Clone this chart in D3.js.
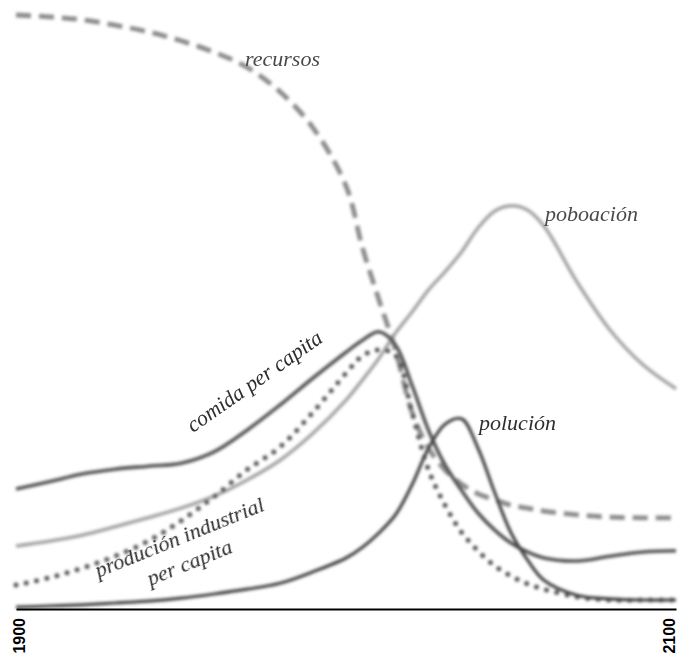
<!DOCTYPE html>
<html>
<head>
<meta charset="utf-8">
<script src="https://cdn.jsdelivr.net/npm/d3@7"></script>
<style>
    html, body { margin: 0; padding: 0; background: #fff; }
    svg { display: block; }
    .label { font-family: "Liberation Serif", "DejaVu Serif", serif; font-style: italic; font-size: 22px; }
    .year-axis text { font-family: "Liberation Sans", Arial, sans-serif; font-weight: bold; font-size: 16px; fill: #000; }
</style>
</head>
<body>
<div id="chart"></div>
<script>
/* ============================================================
   DATA — index values (0–100)
============================================================ */

const years = [
    1900, 1910, 1920, 1930, 1940, 1950, 1960, 1970, 1980, 1990,
    2000, 2005, 2010, 2015, 2020, 2025, 2030, 2035, 2040, 2045,
    2050, 2055, 2060, 2070, 2080, 2090, 2100
];

const recursos = [
    99.0, 98.7, 98.2, 97.3, 96.2, 94.7, 92.8, 90.3, 86.2, 80.2,
    70.5, 60.2, 51.5, 43.2, 32.8, 26.8, 23.2, 20.8, 19.2, 18.2,
    17.3, 16.8, 16.3, 15.7, 15.3, 15.2, 15.2
];

const poboacion = [
    10.5, 11.3, 12.3, 13.7, 15.2, 16.8, 18.8, 21.5, 24.8, 29.3,
    34.8, 38.2, 41.8, 46.0, 49.5, 53.2, 56.2, 59.5, 63.5, 66.3,
    67.2, 66.5, 63.8, 54.5, 46.5, 40.7, 36.7
];

const comida = [
    20.0, 21.2, 22.5, 23.3, 23.8, 24.3, 26.2, 29.8, 34.0, 38.5,
    42.8, 44.8, 46.2, 44.0, 37.3, 29.8, 24.0, 19.8, 16.0, 13.2,
    11.0, 9.5, 8.5, 8.0, 8.8, 9.5, 9.7
];

const industrial = [
    4.0, 5.2, 6.8, 8.8, 11.3, 14.7, 18.7, 23.2, 27.0, 32.8,
    39.3, 42.2, 43.2, 42.3, 32.8, 23.2, 17.3, 12.8, 9.7, 7.2,
    5.5, 4.2, 3.3, 2.0, 1.5, 1.5, 1.5
];

const polucion = [
    0.3, 0.5, 0.7, 1.0, 1.3, 1.8, 2.5, 3.3, 4.3, 6.2,
    8.5, 10.3, 12.7, 15.7, 20.7, 26.8, 30.8, 31.7, 26.8, 19.5,
    12.7, 8.2, 4.8, 2.3, 1.7, 1.5, 1.5
];

const yearTicks = [1900, 2100];

/* ============================================================
   SVG
============================================================ */

const W = 682, H = 657;
const axisY = 609;

const svg = d3.select("#chart")
    .append("svg")
    .attr("width", W)
    .attr("height", H);

const defs = svg.append("defs");
defs.append("filter")
    .attr("id", "soft")
    .attr("x", "-5%").attr("y", "-5%")
    .attr("width", "110%").attr("height", "110%")
    .append("feGaussianBlur")
    .attr("stdDeviation", 1.6);
defs.append("filter")
    .attr("id", "softText")
    .append("feGaussianBlur")
    .attr("stdDeviation", 0.45);

const xScale = d3.scaleLinear()
    .domain([1900, 2100])
    .range([16, 676]);

const yScale = d3.scaleLinear()
    .domain([0, 100])
    .range([axisY, 9]);

const line = d3.line()
    .x(d => xScale(d[0]))
    .y(d => yScale(d[1]))
    .curve(d3.curveCatmullRom.alpha(0.5));

const series = [
    { values: poboacion,  stroke: "#a4a4a4", width: 3.5, dash: null },
    { values: recursos,   stroke: "#8c8c8c", width: 4.8, dash: "15,8" },
    { values: comida,     stroke: "#555",    width: 3.6, dash: null },
    { values: industrial, stroke: "#555",    width: 5,   dash: "0,10.5", round: true },
    { values: polucion,   stroke: "#444",    width: 3.2, dash: null }
];

const lines = svg.append("g").attr("filter", "url(#soft)");

lines.selectAll("path")
    .data(series)
    .join("path")
    .attr("d", s => line(years.map((y, i) => [y, s.values[i]])))
    .attr("fill", "none")
    .attr("stroke", s => s.stroke)
    .attr("stroke-width", s => s.width)
    .attr("stroke-dasharray", s => s.dash)
    .attr("stroke-linecap", s => s.round ? "round" : "butt");

/* ============================================================
   AXIS
============================================================ */

const axis = svg.append("g")
    .attr("class", "year-axis")
    .attr("transform", `translate(0,${axisY})`)
    .call(d3.axisBottom(xScale)
        .tickValues(yearTicks)
        .tickFormat(d3.format("d"))
        .tickSize(0)
        .tickSizeOuter(0));

axis.select(".domain")
    .attr("stroke", "#000")
    .attr("stroke-width", 2);

// rotated year labels; the last one pulled in so it stays inside the frame
axis.selectAll(".tick text")
    .attr("transform", "rotate(-90)")
    .attr("x", -9)
    .attr("y", 0)
    .attr("dy", d => d === 2100 ? "-0.1em" : "0.5em")
    .attr("text-anchor", "end");

/* ============================================================
   LABELS
============================================================ */

const labels = svg.append("g").attr("filter", "url(#softText)");

labels.append("text")
    .attr("class", "label")
    .attr("x", 245).attr("y", 66)
    .attr("fill", "#4a4a4a")
    .text("recursos");

labels.append("text")
    .attr("class", "label")
    .attr("x", 545).attr("y", 221)
    .attr("fill", "#4a4a4a")
    .text("poboación");

labels.append("text")
    .attr("class", "label")
    .attr("x", 479).attr("y", 430)
    .attr("fill", "#2e2e2e")
    .text("polución");

labels.append("text")
    .attr("class", "label")
    .attr("transform", "translate(193,433) rotate(-35)")
    .attr("fill", "#2e2e2e")
    .text("comida per capita");

const ind = labels.append("g")
    .attr("transform", "translate(182,544) rotate(-22)");

ind.append("text")
    .attr("class", "label")
    .attr("text-anchor", "middle")
    .attr("fill", "#2e2e2e")
    .text("produción industrial");

ind.append("text")
    .attr("class", "label")
    .attr("text-anchor", "middle")
    .attr("y", 27)
    .attr("fill", "#2e2e2e")
    .text("per capita");
</script>
</body>
</html>
